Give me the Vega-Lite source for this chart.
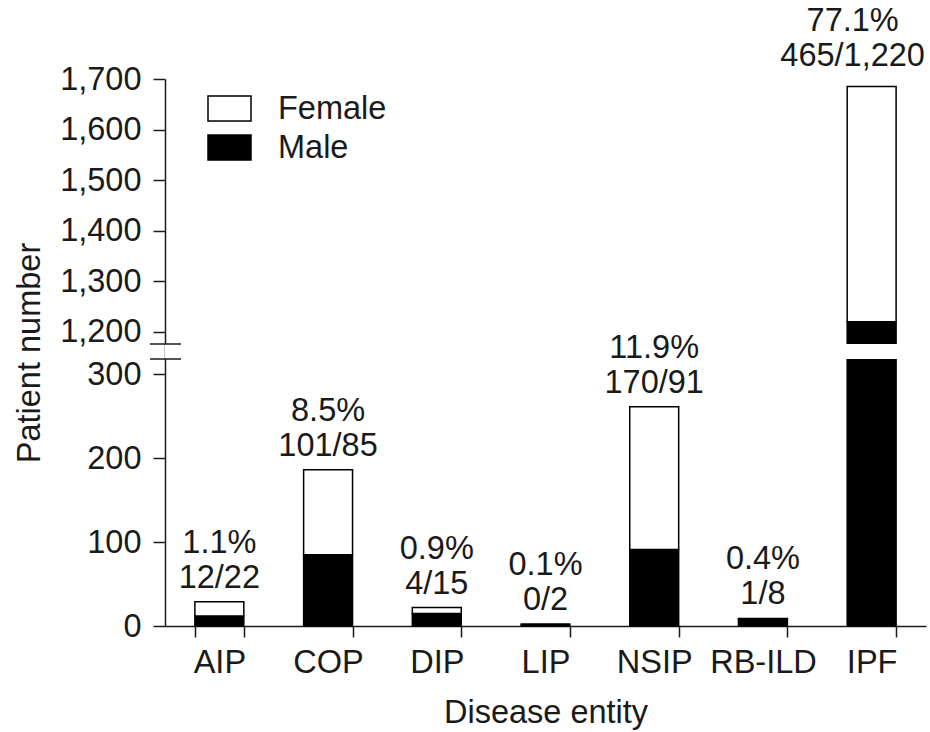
{
  "$schema": "https://vega.github.io/schema/vega-lite/v6.json",
  "width": 761,
  "height": 547,
  "autosize": {"type": "none"},
  "padding": {"left": 165, "top": 79, "right": 4, "bottom": 106},
  "config": {
    "font": "Liberation Sans",
    "view": {"stroke": null},
    "axis": {
      "labelFont": "Liberation Sans",
      "titleFont": "Liberation Sans",
      "labelFontSize": 32.5,
      "titleFontSize": 32.5,
      "titleFontWeight": "normal",
      "labelColor": "#1a1a1a",
      "titleColor": "#1a1a1a",
      "domainColor": "#1a1a1a",
      "tickColor": "#1a1a1a",
      "domainWidth": 1.5,
      "tickWidth": 1.5,
      "grid": false
    },
    "legend": {
      "labelFont": "Liberation Sans",
      "labelFontSize": 32.5,
      "labelColor": "#1a1a1a"
    }
  },
  "datasets": {
    "bars": [
      {"entity": "AIP", "sex": "Male", "count": 12},
      {"entity": "AIP", "sex": "Female", "count": 17},
      {"entity": "COP", "sex": "Male", "count": 85},
      {"entity": "COP", "sex": "Female", "count": 101},
      {"entity": "DIP", "sex": "Male", "count": 15},
      {"entity": "DIP", "sex": "Female", "count": 7},
      {"entity": "LIP", "sex": "Male", "count": 2},
      {"entity": "LIP", "sex": "Female", "count": 0},
      {"entity": "NSIP", "sex": "Male", "count": 91},
      {"entity": "NSIP", "sex": "Female", "count": 170},
      {"entity": "RB-ILD", "sex": "Male", "count": 8},
      {"entity": "RB-ILD", "sex": "Female", "count": 1},
      {"entity": "IPF", "sex": "Male", "count": 1220},
      {"entity": "IPF", "sex": "Female", "count": 465}
    ],
    "labels": [
      {"entity": "AIP", "total": 29, "label": "1.1%\n12/22"},
      {"entity": "COP", "total": 186, "label": "8.5%\n101/85"},
      {"entity": "DIP", "total": 22, "label": "0.9%\n4/15"},
      {"entity": "LIP", "total": 2, "label": "0.1%\n0/2"},
      {"entity": "NSIP", "total": 261, "label": "11.9%\n170/91"},
      {"entity": "RB-ILD", "total": 9, "label": "0.4%\n1/8"},
      {"entity": "IPF", "total": 1685, "label": "77.1%\n465/1,220"}
    ],
    "breaks": [
      {"at": 318},
      {"at": 1176}
    ]
  },
  "layer": [
    {
      "data": {"name": "bars"},
      "mark": {"type": "bar", "stroke": "black", "strokeWidth": 1.5},
      "encoding": {
        "x": {
          "field": "entity",
          "type": "nominal",
          "sort": ["AIP", "COP", "DIP", "LIP", "NSIP", "RB-ILD", "IPF"],
          "scale": {"paddingInner": 0.55, "paddingOuter": 0.275},
          "axis": {
            "title": "Disease entity",
            "labelAngle": 0,
            "tickBand": "extent",
            "tickSize": 11,
            "labelPadding": 9,
            "titlePadding": 18
          }
        },
        "y": {
          "field": "count",
          "type": "quantitative",
          "stack": "zero",
          "scale": {
            "domain": [0, 318, 1176, 1700],
            "range": [547, 280, 265, 0],
            "nice": false,
            "zero": false
          },
          "axis": {
            "title": "Patient number",
            "values": [0, 100, 200, 300, 1200, 1300, 1400, 1500, 1600, 1700],
            "format": ",.0f",
            "tickSize": 12,
            "labelPadding": 12,
            "titlePadding": 13
          }
        },
        "color": {
          "field": "sex",
          "type": "nominal",
          "scale": {"domain": ["Female", "Male"], "range": ["white", "black"]},
          "legend": {
            "title": null,
            "orient": "none",
            "legendX": 42,
            "legendY": 7,
            "padding": 0,
            "symbolType": "M-1,-0.58H1V0.58H-1Z",
            "symbolSize": 1849,
            "symbolStrokeColor": "black",
            "symbolStrokeWidth": 1.5,
            "symbolOpacity": 1,
            "labelOffset": 26,
            "rowPadding": -8.5
          }
        },
        "order": {"field": "sex", "sort": "descending"}
      }
    },
    {
      "data": {"name": "breaks"},
      "mark": {"type": "rect", "fill": "white"},
      "transform": [{"filter": "datum.at < 1000"}],
      "encoding": {
        "y": {"datum": 318, "type": "quantitative"},
        "y2": {"datum": 1176}
      }
    },
    {
      "data": {"name": "breaks"},
      "mark": {"type": "rule", "stroke": "#1a1a1a", "strokeWidth": 1.5},
      "encoding": {
        "y": {"field": "at", "type": "quantitative"},
        "x": {"value": -15},
        "x2": {"value": 16}
      }
    },
    {
      "data": {"name": "labels"},
      "transform": [{"filter": "datum.entity !== 'IPF'"}],
      "mark": {
        "type": "text",
        "lineBreak": "\n",
        "baseline": "bottom",
        "dy": -42,
        "fontSize": 32.5,
        "lineHeight": 35,
        "color": "#1a1a1a"
      },
      "encoding": {
        "x": {"field": "entity", "type": "nominal", "sort": ["AIP", "COP", "DIP", "LIP", "NSIP", "RB-ILD", "IPF"]},
        "y": {"field": "total", "type": "quantitative"},
        "text": {"field": "label"}
      }
    },
    {
      "data": {"name": "labels"},
      "transform": [{"filter": "datum.entity === 'IPF'"}],
      "mark": {
        "type": "text",
        "lineBreak": "\n",
        "baseline": "bottom",
        "dy": -49,
        "dx": -19,
        "fontSize": 32.5,
        "lineHeight": 35,
        "color": "#1a1a1a"
      },
      "encoding": {
        "x": {"field": "entity", "type": "nominal", "sort": ["AIP", "COP", "DIP", "LIP", "NSIP", "RB-ILD", "IPF"]},
        "y": {"field": "total", "type": "quantitative"},
        "text": {"field": "label"}
      }
    }
  ]
}
